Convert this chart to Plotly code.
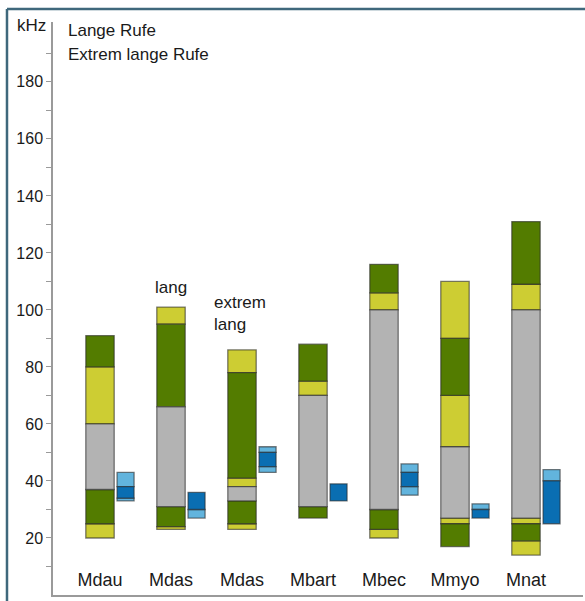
import plotly.graph_objects as go

# Species (the middle "Mdas" column is the extremely long call)
categories = ["Mdau", "Mdas", "Mdas", "Mbart", "Mbec", "Mmyo", "Mnat"]

# Main frequency column: segment boundaries in kHz (bottom to top) and segment types
main_edges = [
    [20, 25, 37, 60, 80, 91],
    [23, 24, 31, 66, 95, 101],
    [23, 25, 33, 38, 41, 78, 86],
    [27, 31, 70, 75, 88],
    [20, 23, 30, 100, 106, 116],
    [17, 25, 27, 52, 70, 90, 110],
    [14, 19, 25, 27, 100, 109, 131],
]
main_kinds = [
    ["Y", "G", "Gr", "Y", "G"],
    ["Y", "G", "Gr", "G", "Y"],
    ["Y", "G", "Gr", "Y", "G", "Y"],
    ["G", "Gr", "Y", "G"],
    ["Y", "G", "Gr", "Y", "G"],
    ["G", "Y", "Gr", "Y", "G", "Y"],
    ["Y", "G", "Y", "Gr", "Y", "G"],
]

# Narrow blue column beside each species
blue_edges = [
    [33, 34, 38, 43],
    [27, 30, 36],
    [43, 45, 50, 52],
    [33, 39],
    [35, 38, 43, 46],
    [27, 30, 32],
    [25, 40, 44],
]
blue_kinds = [
    ["L", "D", "L"],
    ["L", "D"],
    ["L", "D", "L"],
    ["D"],
    ["L", "D", "L"],
    ["D", "L"],
    ["D", "L"],
]

y_major = [20, 40, 60, 80, 100, 120, 140, 160, 180]
y_minor = [10, 30, 50, 70, 90, 110, 130, 150, 170, 190]

colors = {
    "Y": "#cdcd33",
    "G": "#537c00",
    "Gr": "#b3b3b3",
    "L": "#62b4dd",
    "D": "#0a6eb2",
}

MAIN_W = 0.40
BLUE_W = 0.24
BLUE_OFF = 0.36
FONT = "Liberation Sans, Arial, sans-serif"
TXT = "#1a1a1a"
AX = "#9a9a9a"

fig = go.Figure()


def add_segments(edges_list, kinds_list, offset, width):
    groups = {}
    for i, (edges, kinds) in enumerate(zip(edges_list, kinds_list)):
        for j, k in enumerate(kinds):
            g = groups.setdefault(k, {"x": [], "base": [], "y": []})
            g["x"].append(i + offset)
            g["base"].append(edges[j])
            g["y"].append(edges[j + 1] - edges[j])
    for k, g in groups.items():
        fig.add_trace(go.Bar(
            x=g["x"], y=g["y"], base=g["base"], width=width,
            marker=dict(color=colors[k],
                        line=dict(color="rgba(40,40,40,0.6)", width=1.3)),
            hoverinfo="skip", showlegend=False,
        ))


add_segments(main_edges, main_kinds, 0.0, MAIN_W)
add_segments(blue_edges, blue_kinds, BLUE_OFF, BLUE_W)

fig.update_layout(
    width=585, height=601,
    margin=dict(l=53, r=2, t=22, b=6),
    paper_bgcolor="white", plot_bgcolor="white",
    barmode="overlay",
    font=dict(family=FONT, size=16, color=TXT),
    showlegend=False,
)

fig.update_xaxes(
    range=[-0.662, 6.803],
    tickvals=list(range(len(categories))),
    ticktext=categories,
    ticks="", ticklabelposition="inside", ticklabelstandoff=6,
    tickfont=dict(size=18, color=TXT, family=FONT),
    showline=True, linecolor=AX, linewidth=1.5,
    showgrid=False, zeroline=False, fixedrange=True,
)

fig.update_yaxes(
    range=[0, 201],
    tickvals=y_major,
    ticks="outside", ticklen=5, tickcolor=AX, tickwidth=1,
    minor=dict(tickvals=y_minor, ticks="outside", ticklen=5,
               tickcolor=AX, tickwidth=1, showgrid=False),
    tickfont=dict(size=16, color=TXT, family=FONT),
    showline=True, linecolor=AX, linewidth=1.5,
    showgrid=False, zeroline=False, fixedrange=True,
)

annotations = [
    dict(text="kHz", xref="paper", yref="paper", x=-0.0095, y=0.994,
         xanchor="right", yanchor="middle", showarrow=False,
         font=dict(size=17)),
    dict(text="Lange Rufe", xref="paper", yref="paper", x=0.0245, y=0.986,
         xanchor="left", yanchor="middle", showarrow=False,
         font=dict(size=17)),
    dict(text="Extrem lange Rufe", xref="paper", yref="paper", x=0.0245, y=0.944,
         xanchor="left", yanchor="middle", showarrow=False,
         font=dict(size=17)),
    dict(text="lang", xref="x", yref="y", x=1, y=107.7,
         xanchor="center", yanchor="middle", showarrow=False,
         font=dict(size=17)),
    dict(text="extrem<br>lang", xref="x", yref="y", x=1.58, y=98.9,
         xanchor="left", yanchor="middle", align="left", showarrow=False,
         font=dict(size=17)),
]
fig.update_layout(annotations=annotations)

# Outer frame: left and top rules
BORDER = "#3f687c"
fig.add_shape(type="line", xref="paper", yref="paper",
              x0=-0.0868, x1=-0.0868, y0=-0.05, y1=1.0227,
              line=dict(color=BORDER, width=2.5))
fig.add_shape(type="line", xref="paper", yref="paper",
              x0=-0.0868, x1=1.05, y0=1.0227, y1=1.0227,
              line=dict(color=BORDER, width=2.5))

fig.write_html("out.html")
